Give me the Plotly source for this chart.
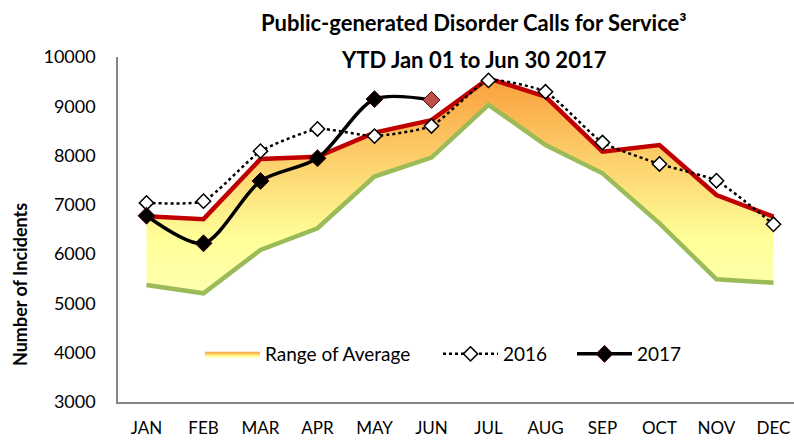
import plotly.graph_objects as go

months = ["JAN", "FEB", "MAR", "APR", "MAY", "JUN", "JUL", "AUG", "SEP", "OCT", "NOV", "DEC"]
avg_high = [6770, 6710, 7930, 7975, 8465, 8720, 9565, 9195, 8080, 8215, 7200, 6760]
avg_low = [5375, 5205, 6085, 6525, 7575, 7960, 9030, 8215, 7640, 6625, 5490, 5420]
y2016 = [7040, 7075, 8090, 8540, 8395, 8600, 9525, 9295, 8265, 7830, 7490, 6605]
months_2017 = ["JAN", "FEB", "MAR", "APR", "MAY", "JUN"]
y2017 = [6780, 6220, 7485, 7945, 9145, 9130]
y_ticks = [3000, 4000, 5000, 6000, 7000, 8000, 9000, 10000]
y_ticktext = ["3000", "4000", "5000", "6000", "7000", "8000", "9000", "10000"]
title_lines = ["Public-generated Disorder Calls for Service³", "YTD Jan 01 to Jun 30 2017"]

FONT = "Lato"
W, H = 794, 441
L, R, T, B = 118, 0, 57, 39
pw, ph = W - L - R, H - T - B

def px_x(xs):
    return (xs - L) / pw

def px_y(ys):
    return (H - B - ys) / ph

fig = go.Figure()

# invisible lower bound for the band
fig.add_trace(go.Scatter(x=months, y=avg_low, mode="lines", line=dict(width=0),
                         showlegend=False, hoverinfo="skip"))
# band filled up to upper bound
fig.add_trace(go.Scatter(
    x=months, y=avg_high, mode="lines", line=dict(width=0), fill="tonexty",
    fillcolor="#FDCB6A",
    fillgradient=dict(type="vertical", start=5200, stop=9600,
                      colorscale=[[0, "#FFFFB0"], [0.25, "#FFFF99"], [1, "#F99F3C"]]),
    name="Range of Average", legend="legend"))
# lower and upper bound lines
fig.add_trace(go.Scatter(x=months, y=avg_low, mode="lines",
                         line=dict(color="#9BBB59", width=4.5), showlegend=False))
fig.add_trace(go.Scatter(x=months, y=avg_high, mode="lines",
                         line=dict(color="#C00000", width=4.5), showlegend=False))
# 2016
fig.add_trace(go.Scatter(
    x=months, y=y2016, mode="lines+markers", name="2016", legend="legend2",
    line=dict(color="black", width=2.5, dash="dot", shape="spline", smoothing=0.5),
    marker=dict(symbol="diamond", size=11, color="white", line=dict(color="black", width=1.5))))
# 2017
marker_colors = ["black"] * (len(y2017) - 1) + ["#C0504D"]
fig.add_trace(go.Scatter(
    x=months_2017, y=y2017, mode="lines+markers", name="2017", legend="legend3",
    line=dict(color="black", width=3.5, shape="spline", smoothing=0.8),
    marker=dict(symbol="diamond", size=13, color=marker_colors,
                line=dict(color="#3a0000", width=1))))

annotations = [
    dict(text="<b>" + title_lines[0] + "</b>", x=px_x(474), y=px_y(22), xref="paper", yref="paper",
         xanchor="center", yanchor="middle", showarrow=False, font=dict(size=22, family=FONT)),
    dict(text="<b>" + title_lines[1] + "</b>", x=px_x(474), y=px_y(60), xref="paper", yref="paper",
         xanchor="center", yanchor="middle", showarrow=False, font=dict(size=22, family=FONT)),
    dict(text="<b>Number of Incidents</b>", textangle=-90, x=px_x(20), y=px_y(285),
         xref="paper", yref="paper", xanchor="center", yanchor="middle", showarrow=False,
         font=dict(size=18, family=FONT)),
]

def leg(xs):
    return dict(orientation="h", x=px_x(xs), y=px_y(354), xanchor="left", yanchor="middle",
                bgcolor="rgba(0,0,0,0)", font=dict(size=19, family=FONT), itemwidth=55)

fig.update_layout(
    width=W, height=H,
    margin=dict(l=L, r=R, t=T, b=B, autoexpand=False),
    paper_bgcolor="white", plot_bgcolor="white",
    font=dict(family=FONT, size=18, color="black"),
    showlegend=True,
    legend=leg(200), legend2=leg(438), legend3=leg(572),
    xaxis=dict(type="category", categoryarray=months, range=[-0.5, 11.36],
               showgrid=False, showline=True, linecolor="#868686", linewidth=1.5,
               ticks="", ticklabelstandoff=10, tickfont=dict(size=17), zeroline=False,
               automargin=False),
    yaxis=dict(range=[3000, 10000], tickvals=y_ticks, ticktext=y_ticktext, showgrid=False,
               showline=True, linecolor="#868686", linewidth=1.5, ticks="",
               ticklabelstandoff=17, tickfont=dict(size=18), zeroline=False, automargin=False),
    annotations=annotations,
)

fig.write_html("out.html", config={"displayModeBar": False},
               post_script="document.body.style.margin='0';document.body.style.overflow='hidden';")
